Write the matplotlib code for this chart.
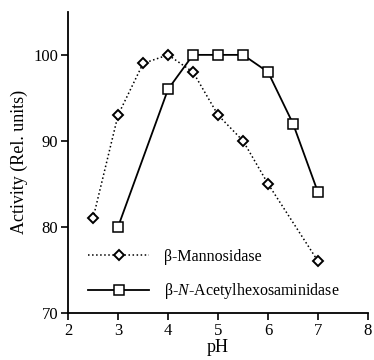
import matplotlib.pyplot as plt

plt.rcParams['font.family'] = ['Liberation Serif', 'DejaVu Serif']
plt.rcParams['mathtext.fontset'] = 'custom'
plt.rcParams['mathtext.rm'] = 'Liberation Serif'
plt.rcParams['mathtext.it'] = 'Liberation Serif:italic'

# beta-mannosidase
man_ph = [2.5, 3, 3.5, 4, 4.5, 5, 5.5, 6, 7]
man_act = [81, 93, 99, 100, 98, 93, 90, 85, 76]

# beta-N-acetylhexosaminidase
hex_ph = [3, 4, 4.5, 5, 5.5, 6, 6.5, 7]
hex_act = [80, 96, 100, 100, 100, 98, 92, 84]

fig = plt.figure(figsize=(3.74, 3.6), dpi=100)
ax = fig.add_axes([0.182, 0.131, 0.802, 0.836])

ax.plot(man_ph, man_act, color='black', linestyle=':', linewidth=1.1,
        marker='D', markersize=5, markerfacecolor='white',
        markeredgecolor='black', markeredgewidth=1.4,
        label='β-Mannosidase')
ax.plot(hex_ph, hex_act, color='black', linestyle='-', linewidth=1.3,
        marker='s', markersize=7, markerfacecolor='white',
        markeredgecolor='black', markeredgewidth=1.1,
        label=r'β-$\mathit{N}$-Acetylhexosaminidase')

ax.set_xlim(2, 8)
ax.set_ylim(70, 105)
ax.set_xticks([2, 3, 4, 5, 6, 7, 8])
ax.set_yticks([70, 80, 90, 100])
ax.spines['top'].set_visible(False)
ax.spines['right'].set_visible(False)
for s in ['left', 'bottom']:
    ax.spines[s].set_linewidth(1.3)
ax.tick_params(direction='out', length=5, width=1.2, labelsize=12, pad=2)

ax.set_xlabel('pH', fontsize=13, labelpad=0)
ax.set_ylabel('Activity (Rel. units)', fontsize=13, labelpad=4)

ax.legend(loc='lower left', bbox_to_anchor=(0.02, -0.01), frameon=False,
          fontsize=11.5, handlelength=3.8, handletextpad=0.9,
          labelspacing=1.05)

fig.savefig('out.png', dpi=100)
